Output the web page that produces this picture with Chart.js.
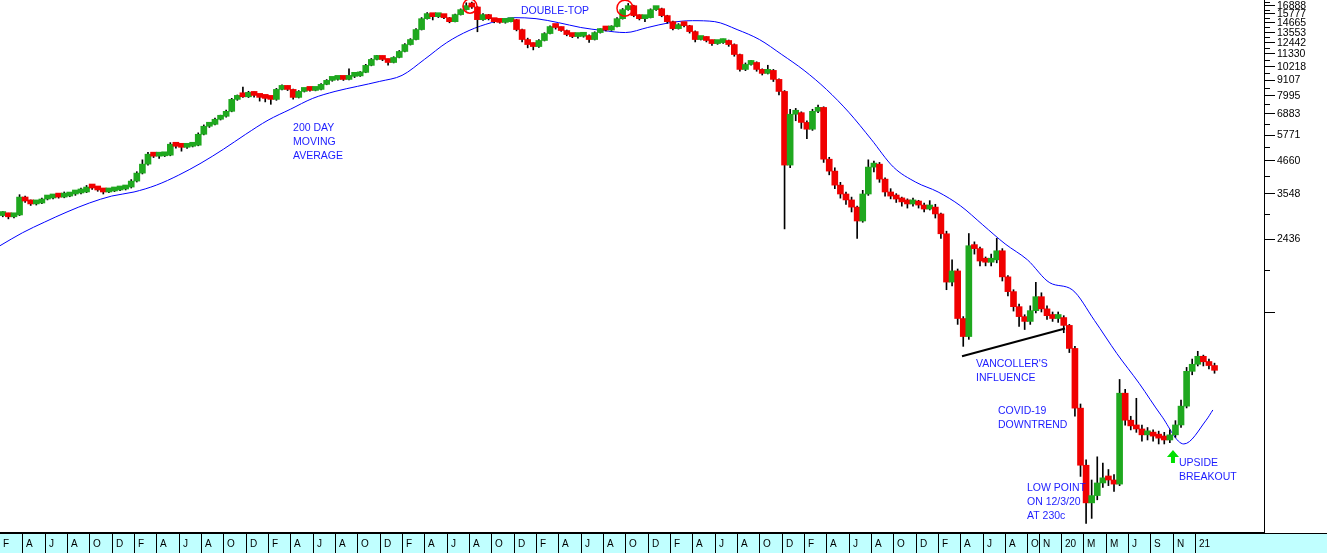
<!DOCTYPE html>
<html>
<head>
<meta charset="utf-8">
<script src="https://cdn.jsdelivr.net/npm/chart.js@4.4.1/dist/chart.umd.min.js"></script>
<style>
html,body{margin:0;padding:0;background:#fff;overflow:hidden}
#wrap{width:1327px;height:555px}
</style>
</head>
<body>
<div id="wrap"><canvas id="c" width="1327" height="555"></canvas></div>
<script>
// half-month candles, first one centred on mid Feb 2012 (x axis = months since 1 Feb 2012)
const opens = [2960,3000,2930,2975,3450,3340,3260,3285,3395,3425,3480,3450,3480,3540,3570,3600,3750,3720,3660,3600,
  3630,3660,3690,3750,3940,4210,4535,4925,4845,4860,4885,5350,5260,5215,5260,5305,5810,6210,6310,6580,
  6745,7030,7760,7955,7930,8225,8020,7890,7825,7760,8430,8645,8430,7890,8290,8430,8360,8430,8790,9085,
  9160,9315,9160,9395,9430,9710,10290,10810,11080,10810,10540,10990,11550,12230,12750,13850,15160,15810,15410,15680,
  15290,14790,15680,16340,16888,16700,15040,15680,15160,14790,14700,14790,15040,13850,12750,12230,12030,12650,13400,14200,
  14090,13740,13290,13070,13100,13180,12750,13510,13850,13800,14200,15160,16340,16888,15550,15160,15290,16340,16470,15550,
  14790,13960,14430,14310,13620,12750,12960,12650,12330,12430,12650,12230,11260,9950,10370,10540,9950,9630,9870,9160,
  8290,4500,6860,6950,6410,6060,7030,7260,4725,4280,3810,3540,3370,3175,2830,3540,4425,4535,4005,3600,
  3480,3395,3315,3260,3315,3230,3125,3175,3000,2545,1705,1870,1260,1085,2305,2250,2030,2010,2050,2210,
  1780,1575,1390,1280,1230,1345,1510,1365,1290,1260,1270,1190,983,599,373,273,290,322,336,330,
  319,678,542,517,504,480,484,475,467,460,480,521,609,813,862,921,880,853];
const closes = [3000,2930,2975,3450,3340,3260,3285,3395,3425,3480,3450,3480,3540,3570,3600,3750,3720,3660,3600,3630,
  3660,3690,3750,3940,4210,4535,4925,4845,4860,4885,5350,5260,5215,5260,5305,5810,6210,6310,6580,6745,
  7030,7760,7955,7930,8225,8020,7890,7825,7760,8430,8645,8430,7890,8290,8430,8360,8430,8790,9085,9160,
  9315,9160,9395,9430,9710,10290,10810,11080,10810,10540,10990,11550,12230,12750,13850,15160,15810,15410,15680,15290,
  14790,15680,16340,16888,16700,15040,15680,15160,14790,14700,14790,15040,13850,12750,12230,12030,12650,13400,14200,14090,
  13740,13290,13070,13100,13180,12750,13510,13850,13800,14200,15160,16340,16888,15550,15160,15290,16340,16470,15550,14790,
  13960,14430,14310,13620,12750,12960,12650,12330,12430,12650,12230,11260,9950,10370,10540,9950,9630,9870,9160,8290,
  4500,6860,6950,6410,6060,7030,7260,4725,4280,3810,3540,3370,3175,2830,3540,4425,4535,4005,3600,3480,
  3395,3315,3260,3315,3230,3125,3175,3000,2545,1705,1870,1260,1085,2305,2250,2030,2010,2050,2210,1780,
  1575,1390,1280,1230,1345,1510,1365,1290,1260,1270,1190,983,599,373,273,290,322,336,330,319,
  678,542,517,504,480,484,475,467,460,480,521,609,813,862,921,880,853,820];
const highs = [3060,3020,3010,3520,3480,3370,3320,3420,3470,3510,3520,3600,3570,3610,3720,3800,3790,3740,3680,3670,
  3700,3720,3790,3990,4260,4700,5000,4960,4900,4940,5420,5400,5290,5330,5360,5880,6280,6380,6650,6810,
  7100,7830,8050,8600,8300,8260,8060,7960,7900,8500,8760,8680,8460,8350,8500,8480,8490,8850,9150,9250,
  9400,9350,10000,9480,9780,10380,10900,11180,11120,10850,11060,11640,12320,12850,13950,15300,15950,15850,15760,15720,
  15320,15760,16450,17300,17400,16760,15800,15720,15200,14900,14950,15150,15080,13900,12900,12400,12750,13500,14300,14350,
  14150,13800,13350,13200,13300,13250,13600,13950,13950,14300,15300,16500,17200,16950,15650,15400,16450,16800,16550,15600,
  14850,14550,14500,14350,13700,13100,13050,12700,12550,12800,12700,12300,11300,10500,10700,10600,10000,10300,9950,9200,
  8350,7150,7200,7000,6500,7150,7400,7300,4800,4400,3900,3600,3450,3200,3650,4700,4650,4600,4050,3700,
  3550,3450,3400,3420,3360,3280,3350,3250,3020,2600,2050,1900,1280,2550,2380,2280,2100,2150,2450,2250,
  1800,1600,1420,1300,1400,1700,1560,1400,1330,1330,1290,1200,1000,620,390,330,400,380,360,345,
  760,700,560,650,520,510,500,495,490,500,540,640,840,900,960,930,900,870];
const lows = [2930,2880,2900,2960,3300,3220,3230,3270,3370,3400,3420,3430,3460,3500,3540,3580,3680,3620,3540,3580,
  3610,3640,3660,3720,3910,4180,4500,4790,4760,4830,4860,5180,5050,5170,5230,5280,5780,6150,6280,6540,
  6700,7000,7700,7880,7880,7900,7650,7600,7450,7700,8400,8350,7780,7850,8250,8300,8330,8400,8760,9020,
  9100,9080,9120,9300,9380,9680,10250,10760,10700,10300,10500,10950,11500,12180,12700,13800,15100,15000,15300,15150,
  14650,14750,15620,16280,16500,13600,14950,15000,14650,14600,14600,14750,13700,12500,11900,11700,11950,12600,13350,13900,
  13650,13150,12950,12900,13000,12450,12700,13450,13700,13750,14150,15100,16250,15400,15000,14800,15250,16250,15400,14600,
  13800,13900,14150,13450,12500,12700,12500,12150,12250,12350,12050,11100,9800,9850,10300,9800,9500,9580,9000,8050,
  2650,4400,6500,6100,5600,6000,6950,4600,4150,3700,3420,3250,3050,2450,2800,3500,4250,3900,3480,3400,
  3300,3200,3150,3200,3150,3050,3100,2900,2450,1600,1650,1200,1000,1060,2150,1950,1950,1950,2000,1720,
  1520,1340,1180,1150,1200,1320,1330,1250,1230,1220,1120,950,560,340,230,240,280,310,315,300,
  315,520,500,490,455,460,455,445,445,450,470,510,600,790,850,850,830,800];

// 200 day moving average, read every two months
const maMonths = [0,2,4,6,8,10,12,14,16,18,20,22,24,26,28,30,32,34,36,38,40,42,44,46,48,50,52,54,56,58,
  60,62,64,66,68,70,72,74,76,78,80,82,84,86,88,90,92,94,96,98,100,102,104,106,108,108.6];
const maValues = [2305,2565,2805,3050,3285,3480,3600,3810,4140,4575,5130,5810,6530,7150,7825,8290,8645,9010,9470,10810,
  12430,13740,14670,15290,15160,14670,14090,13740,13510,14090,14670,14910,14790,13850,12750,11260,9870,8430,6975,5580,
  4425,3905,3600,3210,2740,2340,2050,1695,1600,1240,943,736,562,445,542,590];

// right axis ticks (labels only from 2436 up)
const yTicks = [212.6,1324,2436,3548,4660,5771,6883,7995,9107,10218,11330,12442,13553,14665,15777,16888];
const yLabelled = [2436,3548,4660,5771,6883,7995,9107,10218,11330,12442,13553,14665,15777,16888];
const yMinor = [1880,2992,4104,5215,6327,7439,8551,9662,10774,11886,12997,14109,15221,16332,17444];

// bottom month band: start month of each cell and its label
const bandStarts = [0,2,4,6,8,10,12,14,16,18,20,22,24,26,28,30,32,34,36,38,40,42,44,46,48,50,52,54,56,58,
  60,62,64,66,68,70,72,74,76,78,80,82,84,86,88,90,92,93,95,97,99,101,103,105,107];
const bandLabels = ['F','A','J','A','O','D','F','A','J','A','O','D','F','A','J','A','O','D','F','A','J','A','O','D',
  'F','A','J','A','O','D','F','A','J','A','O','D','F','A','J','A','O','D','F','A','J','A','O','N','20','M','M','J','S','N','21'];

// trend line under the 2019 lows
const trendMonths = [86.14,95.36];
const trendValues = [921,1160];

const notes = [
  {m:26.24, p:6110, lines:['200 DAY','MOVING','AVERAGE']},
  {m:46.65, p:16200, lines:['DOUBLE-TOP']},
  {m:87.39, p:862, lines:["VANCOLLER'S",'INFLUENCE']},
  {m:89.36, p:585, lines:['COVID-19','DOWNTREND']},
  {m:91.96, p:309, lines:['LOW POINT','ON 12/3/20','AT 230c']},
  {m:105.57, p:380, lines:['UPSIDE','BREAKOUT']}
];
const circles = [{m:42.08, p:16820, r:7}, {m:55.96, p:16540, r:8}];
const arrowAt = {m:105.03, p:423};

const GREEN = '#1fa81f', RED = '#f00000', BLUE = '#0000ff', NOTE = '#1c1cff';
const FONT = '"Liberation Sans", Arial, sans-serif';

const xOf = i => 0.25 + 0.5*i;
const bodyData = closes.map((c,i)=>({x:xOf(i), y:[opens[i], c]}));
const wickData = closes.map((c,i)=>({x:xOf(i), y:[lows[i], highs[i]]}));
const bodyColors = closes.map((c,i)=> c >= opens[i] ? GREEN : RED);

const decor = {
  id:'decor',
  afterDraw(chart){
    const ctx = chart.ctx, xs = chart.scales.x, ys = chart.scales.y, a = chart.chartArea;
    ctx.save();
    // month band
    ctx.fillStyle = '#c0ffff';
    ctx.fillRect(0, a.bottom+1, chart.width, 19);
    ctx.fillStyle = '#000';
    ctx.fillRect(0, a.bottom-1, a.right, 2);
    ctx.fillRect(a.right, a.bottom, chart.width-a.right, 1);
    ctx.font = '10px ' + FONT;
    ctx.textBaseline = 'middle';
    ctx.textAlign = 'left';
    bandStarts.forEach((m,i)=>{
      const px = Math.round(xs.getPixelForValue(m));
      if(m > 0) ctx.fillRect(px, a.bottom, 1, 20);
      ctx.fillText(bandLabels[i], px + (m > 0 ? 4 : 3), a.bottom + 11);
    });
    // right axis: minor ticks and labels
    yMinor.forEach(v=>{
      ctx.fillRect(a.right, Math.round(ys.getPixelForValue(v)), 6, 1);
    });
    ctx.font = '10.5px ' + FONT;
    yLabelled.forEach(v=>{
      ctx.fillText(String(v), a.right + 13, ys.getPixelForValue(v) + 0.5);
    });
    // notes
    ctx.fillStyle = NOTE;
    notes.forEach(n=>{
      const px = xs.getPixelForValue(n.m), py = ys.getPixelForValue(n.p);
      n.lines.forEach((t,k)=> ctx.fillText(t, px, py + k*14));
    });
    // circles on the two tops
    ctx.strokeStyle = '#ff0000';
    ctx.lineWidth = 1.5;
    circles.forEach(c=>{
      ctx.beginPath();
      ctx.arc(xs.getPixelForValue(c.m), ys.getPixelForValue(c.p), c.r, 0, Math.PI*2);
      ctx.stroke();
    });
    // green breakout arrow
    const ax = xs.getPixelForValue(arrowAt.m), ay = ys.getPixelForValue(arrowAt.p);
    ctx.fillStyle = '#00e000';
    ctx.beginPath();
    ctx.moveTo(ax, ay);
    ctx.lineTo(ax+6, ay+7);
    ctx.lineTo(ax+2, ay+7);
    ctx.lineTo(ax+2, ay+13);
    ctx.lineTo(ax-2, ay+13);
    ctx.lineTo(ax-2, ay+7);
    ctx.lineTo(ax-6, ay+7);
    ctx.closePath();
    ctx.fill();
    ctx.restore();
  }
};

new Chart(document.getElementById('c'), {
  type:'bar',
  data:{
    datasets:[
      {type:'line', data:trendMonths.map((m,i)=>({x:m, y:trendValues[i]})), borderColor:'#000', borderWidth:2,
        pointRadius:0, order:0},
      {data:bodyData, backgroundColor:bodyColors, barThickness:6, minBarLength:4, grouped:false, order:1},
      {data:wickData, backgroundColor:'#000', barThickness:1, grouped:false, order:2},
      {type:'line', data:maMonths.map((m,i)=>({x:m, y:maValues[i]})), borderColor:BLUE, borderWidth:1,
        pointRadius:0, cubicInterpolationMode:'monotone', order:3}
    ]
  },
  options:{
    responsive:false,
    animation:false,
    events:[],
    devicePixelRatio:1,
    layout:{padding:{left:0, right:0, top:0, bottom:22}},
    plugins:{legend:{display:false}, tooltip:{enabled:false}},
    scales:{
      x:{type:'linear', min:0, max:113.18, display:false, offset:false},
      y:{
        type:'logarithmic', position:'right', min:212.6, max:17700,
        afterBuildTicks(s){ s.ticks = yTicks.map(v=>({value:v})); },
        afterFit(s){ s.width = 63; },
        grid:{drawOnChartArea:false, drawTicks:true, tickLength:11, tickColor:'#000'},
        border:{display:true, color:'#000', width:1},
        ticks:{display:false}
      }
    }
  },
  plugins:[decor]
});
</script>
</body>
</html>
